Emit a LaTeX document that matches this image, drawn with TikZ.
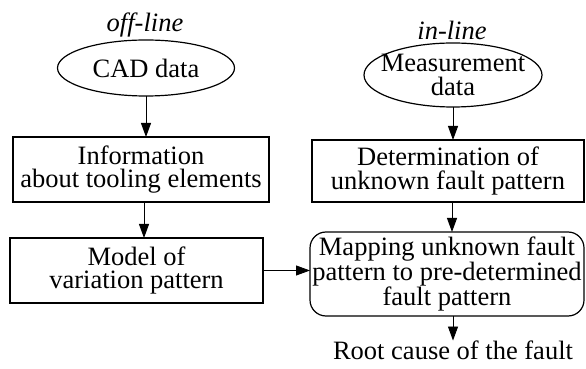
\documentclass[tikz,border=0pt]{standalone}
\usepackage{fontspec}
\setmainfont{Liberation Serif}
\usetikzlibrary{positioning, shapes.geometric, arrows.meta}

\begin{document}
\begin{tikzpicture}[x=1pt,y=1pt,
    every node/.style={inner sep=0,outer sep=0,font=\fontsize{26.5}{23.5}\selectfont},
    databox/.style={draw,ellipse,line width=1.2pt},
    stepbox/.style={draw,line width=1.2pt,align=center},
    mapbox/.style={draw,line width=1.2pt,rounded corners=16pt,align=center},
    flow/.style={-{Triangle[length=14pt,width=10pt]},line width=0.9pt}]
      \useasboundingbox (0,0) rectangle (586,369);

      % off-line branch
      \node(offline) at (145,344){\itshape off-line};
      \node(cad)[databox,minimum width=177,minimum height=56] at (146,301){CAD data};
      \node(info)[stepbox,minimum width=256,minimum height=65] at (141,199.5){Information\\about tooling elements};
      \node(model)[stepbox,minimum width=253,minimum height=65] at (136.5,98.5){Model of\\variation pattern};

      % in-line branch
      \node(inline) at (452,339){\itshape in-line};
      \node(meas)[databox,minimum width=178,minimum height=64] at (453,294){};
      \node(meastext)[align=center] at (meas.center){Measurement\\data};
      \node(det)[stepbox,minimum width=272,minimum height=62] at (448,198){Determination of\\unknown fault pattern};
      \node(map)[mapbox,minimum width=274,minimum height=84] at (447,95){Mapping unknown fault\\pattern to pre-determined\\fault pattern};
      \node(root) at (453,19){Root cause of the fault};

      \draw[flow](cad.south)--(cad.south |- info.north);
      \draw[flow](info.south -| 144,0)--(model.north -| 144,0);
      \draw[flow](model.east)--(model.east -| map.west);
      \draw[flow](meas.south)--(meas.south |- det.north);
      \draw[flow](det.south -| 452,0)--(map.north -| 452,0);
      \draw[flow](map.south -| 453,0)--(root.north);
\end{tikzpicture}
\end{document}
